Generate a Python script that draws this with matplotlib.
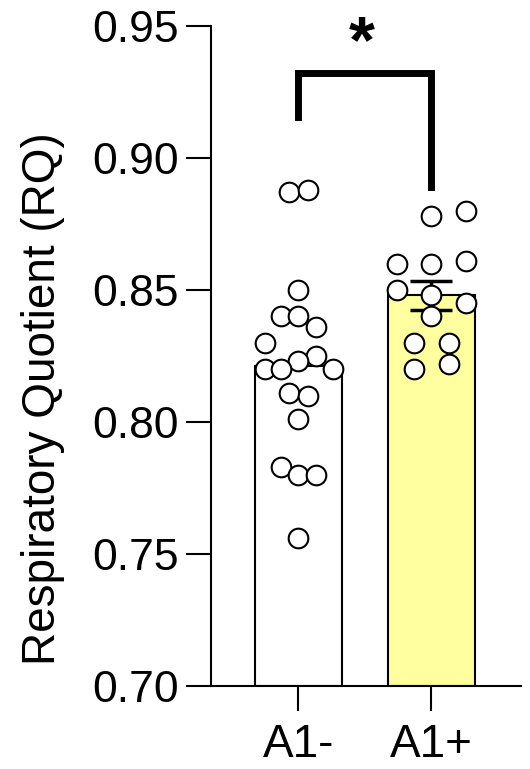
import numpy as np
import matplotlib.pyplot as plt

plt.rcParams['font.family'] = ['Liberation Sans', 'DejaVu Sans']

# data
groups = ['A1-', 'A1+']
a1_minus = [0.887, 0.888, 0.850, 0.840, 0.840, 0.836, 0.830, 0.825, 0.823,
            0.820, 0.820, 0.820, 0.811, 0.810, 0.801, 0.783, 0.780, 0.780, 0.756]
a1_minus_x = [-0.07, 0.07, 0.0, -0.13, 0.0, 0.13, -0.25, 0.13, 0.0,
              -0.25, -0.13, 0.26, -0.07, 0.07, 0.0, -0.13, 0.0, 0.13, 0.0]
a1_plus = [0.878, 0.880, 0.860, 0.860, 0.861, 0.850, 0.848, 0.845, 0.840,
           0.830, 0.830, 0.820, 0.822]
a1_plus_x = [0.0, 0.26, -0.26, 0.0, 0.26, -0.26, 0.0, 0.26, 0.0,
             -0.13, 0.13, -0.13, 0.13]
bar_colors = ['white', '#FFFFA0']
show_err = [False, True]   # A1- error bar is hidden behind the dots
yticks = [0.70, 0.75, 0.80, 0.85, 0.90, 0.95]

fig = plt.figure(figsize=(5.30, 7.69), dpi=100)
ax = fig.add_axes([0.398, 0.108, 0.585, 0.858])

series = [a1_minus, a1_plus]
offsets = [a1_minus_x, a1_plus_x]
for i, vals in enumerate(series):
    vals = np.array(vals)
    mean = vals.mean()
    sem = vals.std(ddof=1) / np.sqrt(len(vals))
    ax.bar(i, mean - 0.70, bottom=0.70, width=0.654, color=bar_colors[i],
           edgecolor='black', linewidth=1.5, zorder=1)
    if show_err[i]:
        ax.errorbar(i, mean, yerr=sem, color='black', capsize=15,
                    elinewidth=2.5, capthick=2.5, zorder=2)
    ax.scatter(i + np.array(offsets[i]), vals, s=200, facecolor='white',
               edgecolor='black', linewidth=1.5, zorder=3, clip_on=False)

# significance bracket
ax.plot([0, 0, 1, 1], [0.9155, 0.9322, 0.9322, 0.889], color='black',
        linewidth=5, solid_joinstyle='miter', clip_on=False)
ax.text(0.477, 0.9365, '*', ha='center', va='baseline', fontsize=48,
        fontweight='bold', clip_on=False)

ax.set_xlim(-0.658, 1.673)
ax.set_ylim(0.70, 0.95)
ax.set_yticks(yticks)
ax.set_yticklabels([f'{t:.2f}' for t in yticks])
ax.set_xticks([0, 1])
ax.set_xticklabels(groups)
ax.tick_params(labelsize=32, width=1.5, length=18)
ax.tick_params(axis='y', pad=5)
ax.tick_params(axis='x', pad=9, labelsize=33)
ax.set_ylabel('Respiratory Quotient (RQ)', fontsize=33)
ax.yaxis.set_label_coords(-0.47, 0.436)

for side in ['top', 'right']:
    ax.spines[side].set_visible(False)
for side in ['left', 'bottom']:
    ax.spines[side].set_linewidth(1.5)

# panel letter, mostly outside the crop as in the source figure
fig.text(0.083, 1.0 - 3 / 769, 'B', fontsize=30, fontweight='bold',
         ha='left', va='bottom')

fig.savefig('out.png', dpi=100)
